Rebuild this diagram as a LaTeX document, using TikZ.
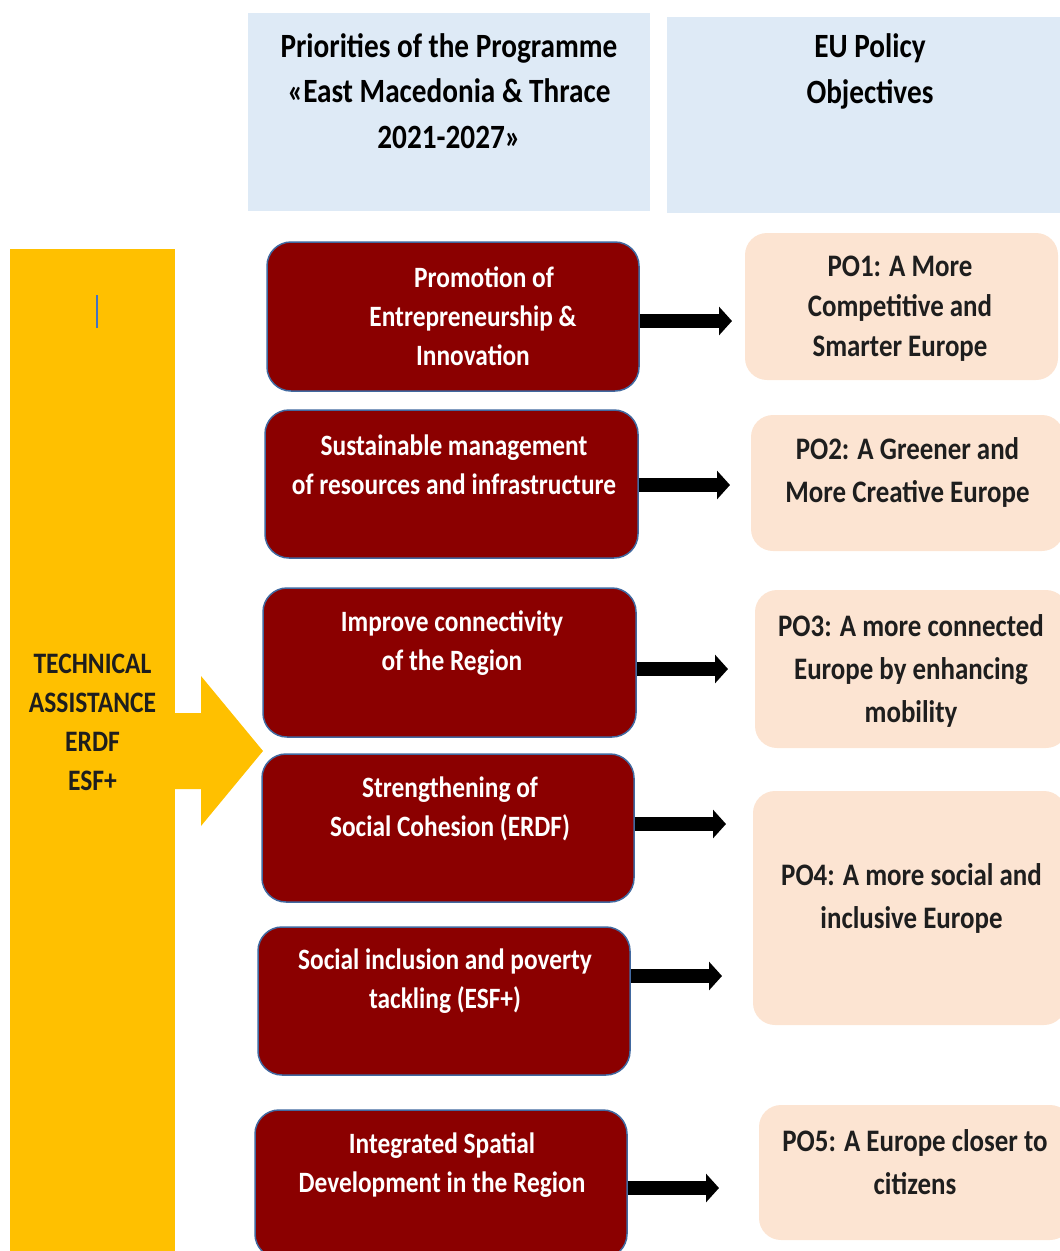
\documentclass[tikz,border=0pt]{standalone}
\usepackage{fontspec}
\setmainfont{Carlito}[FakeStretch=0.86]
\usetikzlibrary{arrows.meta}
\definecolor{hdrblue}{RGB}{222,234,246}
\definecolor{tayellow}{RGB}{255,192,0}
\definecolor{prired}{RGB}{139,0,0}
\definecolor{priborder}{RGB}{65,105,160}
\definecolor{popeach}{RGB}{252,228,210}
\definecolor{darktext}{RGB}{30,30,30}
\definecolor{cursorblue}{RGB}{68,114,196}
\begin{document}
\begin{tikzpicture}[x=1pt,y=-1pt,
  hdrbox/.style={fill=hdrblue, draw=none, inner sep=0pt},
  tabox/.style={fill=tayellow, draw=none, inner sep=0pt},
  pribox/.style={fill=prired, draw=priborder, line width=1.5pt, rounded corners=24pt, inner sep=0pt},
  pobox/.style={fill=popeach, draw=none, rounded corners=22pt, inner sep=0pt},
  hdrtext/.style={align=center, font=\bfseries\fontsize{34}{45.5}\selectfont, text=black, inner sep=0pt},
  tatext/.style={align=center, font=\bfseries\fontsize{29.7}{39}\selectfont, text=darktext, inner sep=0pt},
  pritext/.style={align=center, font=\bfseries\fontsize{29.5}{39}\selectfont, text=white, inner sep=0pt},
  potext/.style={align=center, font=\bfseries\fontsize{31.3}{43}\selectfont, text=darktext, inner sep=0pt},
  blackarrow/.style={line width=14pt, black, -{Triangle[length=13pt,width=28pt]}},
]
\useasboundingbox (0,0) rectangle (1060,1251);
\clip (0,0) rectangle (1060,1251);

% headers
\node[hdrbox, minimum width=402pt, minimum height=198pt] (h1) at (449,112) {};
\node[hdrbox, minimum width=400pt, minimum height=196pt] (h2) at (867,115) {};
\node[hdrtext] (h1t) at (449,91) {Priorities of the Programme\\«East Macedonia \& Thrace\\2021-2027»};
\node[hdrtext] (h2t) at (870,71.5) {EU Policy\\Objectives};

% technical assistance bar
\node[tabox, minimum width=165pt, minimum height=1011pt] (ta) at (92.5,754.5) {};
\fill[tayellow] (174,713) -- (201,713) -- (201,676) -- (263,751) -- (201,826) -- (201,789) -- (174,789) -- cycle;
\draw[cursorblue, line width=2pt] (97,295) -- (97,328);
\node[tatext] (tat) at (92.5,722.5) {TECHNICAL\\ASSISTANCE\\ERDF\\ESF+};

% priorities
\node[pribox, minimum width=372pt, minimum height=149pt] (p1) at (453,316.5) {};
\node[pribox, minimum width=373pt, minimum height=148pt] (p2) at (451.5,484) {};
\node[pribox, minimum width=373pt, minimum height=149pt] (p3) at (449.5,662.5) {};
\node[pribox, minimum width=372pt, minimum height=148pt] (p4) at (448,828) {};
\node[pribox, minimum width=372pt, minimum height=148pt] (p5) at (444,1001) {};
\node[pribox, minimum width=372pt, minimum height=148pt] (p6) at (441,1184) {};

\node[pritext] (p1t) at (473,316) {\hspace*{22pt}Promotion of\\Entrepreneurship \&\\Innovation};
\node[pritext] (p2t) at (454,464.5) {Sustainable management\\of resources and infrastructure};
\node[pritext] (p3t) at (452,643) {Improve connectivity\\of the Region};
\node[pritext] (p4t) at (450,808.5) {Strengthening of\\Social Cohesion (ERDF)};
\node[pritext] (p5t) at (445,981.5) {Social inclusion and poverty\\tackling (ESF+)};
\node[pritext] (p6t) at (442,1165.5) {Integrated Spatial\\Development in the Region};

% policy objectives
\node[pobox, minimum width=313pt, minimum height=147pt] (o1) at (901.5,306.5) {};
\node[pobox, minimum width=313pt, minimum height=136pt] (o2) at (907.5,483) {};
\node[pobox, minimum width=313pt, minimum height=158pt] (o3) at (911.5,669) {};
\node[pobox, minimum width=313pt, minimum height=234pt] (o4) at (909.5,908) {};
\node[pobox, minimum width=313pt, minimum height=135pt] (o5) at (915.5,1172.5) {};

\node[potext, font=\bfseries\fontsize{31.3}{40}\selectfont] (o1t) at (900,309) {PO1: A More\\Competitive and\\Smarter Europe};
\node[potext] (o2t) at (907.5,472.5) {PO2: A Greener and\\More Creative Europe};
\node[potext] (o3t) at (911,671) {PO3: A more connected\\Europe by enhancing\\mobility};
\node[potext] (o4t) at (911.5,898.5) {PO4: A more social and\\inclusive Europe};
\node[potext] (o5t) at (915,1162.5) {PO5: A Europe closer to\\citizens};

% arrows
\coordinate (t1) at (732,321);
\coordinate (t2) at (730,485);
\coordinate (t3) at (728,669);
\coordinate (t4) at (726,824);
\coordinate (t5) at (722,976);
\coordinate (t6) at (719,1188);
\draw[blackarrow] (p1.east |- t1) -- (t1);
\draw[blackarrow] (p2.east |- t2) -- (t2);
\draw[blackarrow] (p3.east |- t3) -- (t3);
\draw[blackarrow] (p4.east |- t4) -- (t4);
\draw[blackarrow] (p5.east |- t5) -- (t5);
\draw[blackarrow] (p6.east |- t6) -- (t6);
\end{tikzpicture}
\end{document}
